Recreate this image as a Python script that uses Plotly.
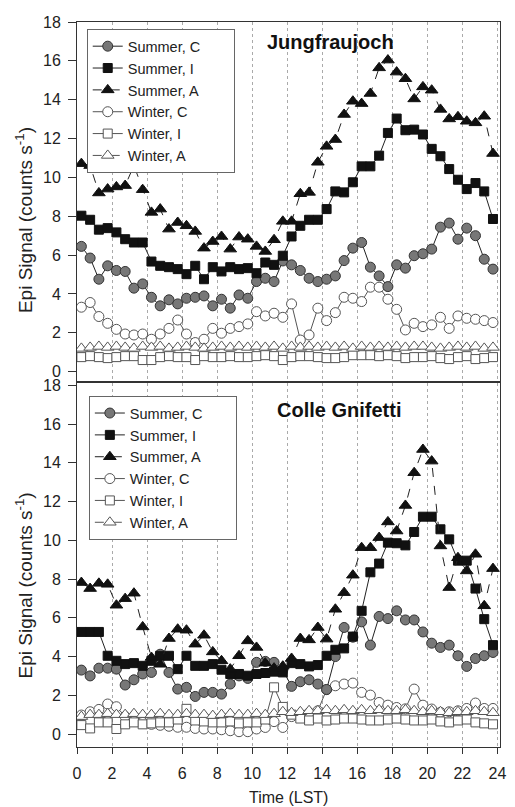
import plotly.graph_objects as go

# ---------------- data ----------------
hours = [0.25, 0.75, 1.25, 1.75, 2.25, 2.75, 3.25, 3.75, 4.25, 4.75, 5.25, 5.75,
         6.25, 6.75, 7.25, 7.75, 8.25, 8.75, 9.25, 9.75, 10.25, 10.75, 11.25, 11.75,
         12.25, 12.75, 13.25, 13.75, 14.25, 14.75, 15.25, 15.75, 16.25, 16.75, 17.25, 17.75,
         18.25, 18.75, 19.25, 19.75, 20.25, 20.75, 21.25, 21.75, 22.25, 22.75, 23.25, 23.75]

x_ticks = [0, 2, 4, 6, 8, 10, 12, 14, 16, 18, 20, 22, 24]
y_ticks = [0, 2, 4, 6, 8, 10, 12, 14, 16, 18]

series_names = ["Summer, C", "Summer, I", "Summer, A", "Winter, C", "Winter, I", "Winter, A"]

# Jungfraujoch
jfj_summer_c = [6.45, 5.85, 4.76, 5.45, 5.21, 5.16, 4.30, 4.52, 3.83, 3.39, 3.70, 3.49,
                3.78, 3.83, 3.90, 3.39, 3.73, 3.27, 3.95, 3.78, 4.64, 4.81, 4.64, 5.70,
                5.50, 5.21, 4.81, 4.64, 4.76, 4.93, 5.72, 6.36, 6.65, 5.38, 4.93, 4.38,
                5.50, 5.33, 5.97, 6.07, 6.31, 7.44, 7.65, 6.82, 7.39, 7.00, 5.79, 5.28]
jfj_summer_i = [8.03, 7.82, 7.31, 7.39, 7.17, 6.82, 6.65, 6.65, 5.67, 5.45, 5.38, 5.28,
                5.02, 5.45, 4.76, 5.38, 5.16, 5.38, 5.28, 5.33, 5.07, 5.62, 5.50, 5.97,
                6.96, 7.51, 7.82, 7.82, 8.37, 9.28, 9.23, 9.75, 10.57, 10.57, 11.12, 12.29,
                13.03, 12.43, 12.46, 12.21, 11.47, 11.09, 10.43, 9.88, 9.40, 9.71, 9.28, 7.86]
jfj_summer_a = [10.71, 10.61, 9.20, 9.40, 9.51, 9.58, 10.61, 9.37, 8.20, 8.37, 7.34, 7.68,
                7.51, 7.22, 6.36, 6.70, 6.96, 6.31, 6.93, 6.82, 6.45, 6.19, 6.79, 7.74,
                7.74, 9.16, 9.23, 10.78, 11.60, 11.95, 13.24, 13.92, 13.80, 14.32, 15.64, 16.04,
                15.42, 15.08, 14.04, 14.66, 14.49, 13.50, 13.01, 13.12, 12.89, 12.81, 13.15, 11.23]
jfj_winter_c = [3.32, 3.56, 2.84, 2.49, 2.18, 1.94, 1.89, 1.94, 1.67, 1.94, 2.23, 2.66,
                1.94, 1.50, 1.67, 2.23, 1.98, 2.23, 2.32, 2.46, 3.09, 2.87, 3.01, 2.80,
                3.49, 1.63, 1.89, 3.27, 2.63, 3.04, 3.83, 3.78, 3.61, 4.35, 4.35, 3.73,
                3.21, 2.15, 2.49, 2.32, 2.41, 2.80, 2.23, 2.87, 2.75, 2.70, 2.63, 2.53]
jfj_winter_i = [0.75, 0.80, 0.75, 0.70, 0.75, 0.80, 0.80, 0.60, 0.60, 0.75, 0.80, 0.75,
                0.75, 0.60, 0.80, 0.75, 0.75, 0.80, 0.75, 0.75, 0.80, 0.85, 0.80, 0.60,
                0.75, 0.80, 0.80, 0.75, 0.70, 0.70, 0.75, 0.85, 0.85, 0.85, 0.80, 0.85,
                0.80, 0.70, 0.75, 0.75, 0.80, 0.70, 0.65, 0.75, 0.80, 0.65, 0.70, 0.75]
jfj_winter_a = [1.20, 1.25, 1.30, 1.25, 1.30, 1.25, 1.20, 1.30, 1.25, 1.30, 1.20, 1.25,
                1.30, 1.25, 1.20, 1.25, 1.30, 1.25, 1.30, 1.25, 1.30, 1.25, 1.30, 1.20,
                1.30, 1.25, 1.30, 1.25, 1.30, 1.25, 1.30, 1.20, 1.30, 1.25, 1.30, 1.25,
                1.30, 1.25, 1.30, 1.30, 1.25, 1.20, 1.25, 1.30, 1.25, 1.30, 1.20, 1.25]

# Colle Gnifetti
cg_summer_c = [3.30, 3.00, 3.40, 3.40, 3.35, 2.53, 2.80, 3.10, 3.18, 4.12, 3.18, 2.32,
               2.41, 1.94, 2.15, 2.15, 2.06, 2.58, 3.00, 2.87, 3.70, 3.75, 3.70, 3.30,
               2.46, 2.70, 2.80, 2.58, 2.30, 4.00, 5.50, 5.00, 5.79, 4.59, 6.07, 5.96,
               6.36, 5.89, 5.89, 5.27, 4.69, 4.47, 4.59, 4.04, 3.49, 3.90, 4.04, 4.21]
cg_summer_i = [5.27, 5.27, 5.27, 4.04, 3.78, 3.61, 3.66, 3.52, 3.78, 4.04, 4.04, 3.35,
               4.04, 3.52, 3.52, 3.61, 3.32, 3.10, 3.10, 3.01, 3.10, 3.15, 3.22, 3.18,
               3.66, 3.61, 3.49, 3.56, 4.04, 4.35, 4.42, 5.03, 6.36, 8.35, 8.80, 9.88,
               9.85, 9.74, 10.43, 11.22, 11.22, 10.57, 10.05, 8.95, 8.95, 7.51, 5.93, 4.59]
cg_summer_a = [7.82, 7.51, 7.78, 7.73, 6.65, 6.99, 7.27, 5.53, 3.95, 3.60, 4.93, 5.41,
               5.36, 4.64, 5.10, 4.24, 3.78, 3.35, 4.04, 4.81, 4.47, 3.66, 3.40, 3.50,
               3.90, 4.93, 4.86, 5.50, 4.90, 6.44, 7.30, 8.20, 9.62, 9.62, 10.14, 10.95,
               10.48, 11.80, 13.49, 14.69, 14.09, 9.71, 7.56, 9.10, 8.42, 9.28, 6.62, 8.54]
cg_winter_c = [0.98, 1.15, 1.27, 1.55, 1.41, 0.90, 0.70, 0.60, 0.50, 0.45, 0.40, 0.35,
               0.35, 0.29, 0.26, 0.26, 0.22, 0.17, 0.12, 0.12, 0.26, 0.34, 0.64, 0.34,
               0.90, 1.00, 1.10, 1.20, 2.29, 2.49, 2.58, 2.63, 2.15, 2.01, 1.63, 1.49,
               1.37, 1.30, 2.32, 1.49, 1.29, 1.12, 1.15, 1.20, 1.32, 1.60, 1.32, 1.32]
cg_winter_i = [0.46, 0.29, 0.60, 0.60, 0.26, 0.50, 0.60, 0.50, 0.55, 0.60, 0.60, 0.75,
               1.30, 0.70, 0.65, 0.60, 0.60, 0.65, 0.55, 0.60, 0.60, 0.75, 2.41, 1.40,
               1.00, 0.80, 0.70, 0.80, 0.70, 0.75, 0.80, 0.80, 0.75, 0.70, 0.70, 0.75,
               0.80, 0.75, 0.70, 0.70, 0.75, 0.65, 0.60, 0.70, 0.75, 0.60, 0.55, 0.50]
cg_winter_a = [0.90, 1.00, 1.00, 1.05, 1.00, 1.00, 1.05, 1.00, 1.00, 1.05, 1.00, 1.00,
               1.05, 1.00, 1.00, 0.95, 1.00, 1.05, 1.00, 1.00, 1.05, 1.00, 1.05, 1.15,
               1.10, 1.15, 1.20, 1.20, 1.25, 1.20, 1.25, 1.20, 1.25, 1.20, 1.25, 1.20,
               1.20, 1.25, 1.20, 1.15, 1.20, 1.15, 1.10, 1.15, 1.15, 1.20, 1.15, 1.10]

# ---------------- styles ----------------
FONT = "Liberation Sans, Arial, Helvetica, sans-serif"
PAD = "\u00a0" * 7  # widens legend box like the reference
styles = [
    dict(symbol="circle", size=10, color="#777777", lc="#222222", dash="solid", mline="#333333"),
    dict(symbol="square", size=9, color="#111111", lc="#222222", dash="solid", mline="#111111"),
    dict(symbol="triangle-up", size=11, color="#111111", lc="#222222", dash="dash", mline="#111111"),
    dict(symbol="circle", size=10, color="white", lc="#555555", dash="solid", mline="#555555"),
    dict(symbol="square", size=9, color="white", lc="#555555", dash="solid", mline="#555555"),
    dict(symbol="triangle-up", size=11, color="white", lc="#555555", dash="dash", mline="#555555"),
]

fig = go.Figure()

panels = [
    ("x2", "y2", "legend", [jfj_summer_c, jfj_summer_i, jfj_summer_a, jfj_winter_c, jfj_winter_i, jfj_winter_a]),
    ("x", "y", "legend2", [cg_summer_c, cg_summer_i, cg_summer_a, cg_winter_c, cg_winter_i, cg_winter_a]),
]

for xa, ya, lg, data in panels:
    order = [3, 4, 5, 0, 1, 2]
    for k in order:
        s = styles[k]
        fig.add_trace(go.Scatter(
            x=hours, y=data[k], name=series_names[k] + PAD, xaxis=xa, yaxis=ya, legend=lg,
            mode="lines+markers", legendrank=k + 1,
            line=dict(color=s["lc"], width=1, dash=s["dash"]),
            marker=dict(symbol=s["symbol"], size=s["size"], color=s["color"],
                        line=dict(color=s["mline"], width=1)),
        ))

axis_common = dict(
    range=[0, 24.15], tickmode="array", tickvals=x_ticks,
    showline=True, linecolor="#333333", linewidth=1, mirror=True,
    showgrid=True, gridcolor="#aaaaaa", griddash="dot", gridwidth=1,
    zeroline=False, tickfont=dict(family=FONT, size=16, color="#222222"),
)
yaxis_common = dict(
    tickmode="array", tickvals=y_ticks, ticks="outside", ticklen=8,
    tickcolor="#333333", showline=True, linecolor="#333333", linewidth=1, mirror=True,
    showgrid=False, zeroline=False, tickfont=dict(family=FONT, size=16, color="#222222"),
    ticklabelstandoff=4,
)

legend_common = dict(xanchor="left", yanchor="top", bgcolor="white",
                     bordercolor="#666666", borderwidth=1,
                     font=dict(family=FONT, size=14.5, color="#222222"),
                     traceorder="normal")

fig.update_layout(
    width=515, height=807,
    margin=dict(l=77, r=9, t=22, b=60),
    paper_bgcolor="white", plot_bgcolor="white",
    font=dict(family=FONT, size=16, color="#222222"),
    xaxis=dict(**axis_common, anchor="y", domain=[0, 1], ticks="outside", ticklen=6,
               tickcolor="#333333", ticklabelstandoff=6),
    xaxis2=dict(**axis_common, anchor="y2", domain=[0, 1], ticks="", showticklabels=False,
                matches="x"),
    yaxis=dict(**yaxis_common, anchor="x", domain=[0, 0.502], range=[-0.67, 18.12]),
    yaxis2=dict(**yaxis_common, anchor="x2", domain=[0.5048, 1], range=[-0.48, 18]),
    legend=dict(x=0.023, y=0.990, **legend_common),
    legend2=dict(x=0.028, y=0.484, **legend_common),
    showlegend=True,
    annotations=[
        dict(text="<b>Jungfraujoch</b>", xref="paper", yref="paper", x=0.445, y=0.972,
             xanchor="left", yanchor="middle", showarrow=False,
             font=dict(family=FONT, size=20, color="#111111")),
        dict(text="<b>Colle Gnifetti</b>", xref="paper", yref="paper", x=0.468, y=0.465,
             xanchor="left", yanchor="middle", showarrow=False,
             font=dict(family=FONT, size=20, color="#111111")),
        dict(text="Epi Signal (counts s<sup>-1</sup>)", xref="paper", yref="paper",
             x=-0.125, y=0.727, xanchor="center", yanchor="middle", textangle=-90,
             showarrow=False, font=dict(family=FONT, size=19, color="#222222")),
        dict(text="Epi Signal (counts s<sup>-1</sup>)", xref="paper", yref="paper",
             x=-0.125, y=0.223, xanchor="center", yanchor="middle", textangle=-90,
             showarrow=False, font=dict(family=FONT, size=19, color="#222222")),
        dict(text="Time (LST)", xref="paper", yref="paper", x=0.5, y=-0.069,
             xanchor="center", yanchor="middle", showarrow=False,
             font=dict(family=FONT, size=16, color="#222222")),
    ],
)

fig.write_html("out.html")
